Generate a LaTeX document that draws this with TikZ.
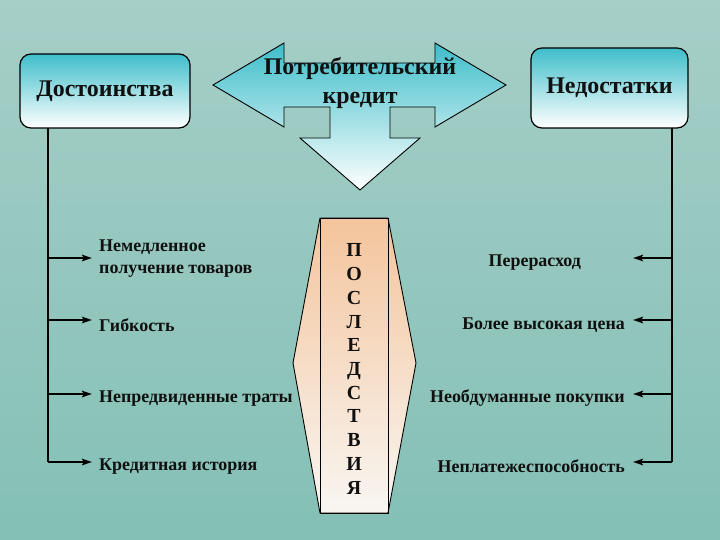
\documentclass[tikz,border=0pt]{standalone}
\usepackage{fontspec}
\setmainfont{Liberation Serif}
\usetikzlibrary{arrows.meta}
\definecolor{bgtop}{RGB}{204,226,221}
\definecolor{bgmid}{RGB}{176,216,209}
\definecolor{bgbot}{RGB}{142,199,190}
\definecolor{bgside}{RGB}{120,184,173}
\definecolor{bglight}{RGB}{208,234,230}
\definecolor{boxtop}{RGB}{62,190,202}
\definecolor{boxmid}{RGB}{160,222,226}
\definecolor{peach}{RGB}{244,196,156}
\definecolor{peachlow}{RGB}{248,246,242}
\definecolor{ink}{RGB}{16,16,16}
\tikzset{
  headbox/.style={draw=black, line width=1.2bp, rounded corners=11bp,
    top color=boxtop, middle color=boxmid, bottom color=white,
    font=\fontsize{24}{28}\selectfont\bfseries, text=ink},
  itemtext/.style={font=\fontsize{18}{22}\selectfont\bfseries, text=ink, inner ysep=0pt},
  trunk/.style={line width=2.4bp, draw=black},
  branch/.style={line width=2.6bp, draw=black, -{Stealth[length=10bp,width=6.5bp,inset=2bp]}},
}
\begin{document}
\begin{tikzpicture}[x=1bp,y=-1bp]
\useasboundingbox (0,0) rectangle (720,540);
% background
\shade[top color=bgtop, middle color=bgmid, bottom color=bgbot] (0,0) rectangle (720,540);
\shade[left color=bgside, middle color=bglight, right color=bgside, opacity=0.45] (0,0) rectangle (720,540);

% central quad arrow
\shade[draw=black, line width=0.9bp, top color=boxtop, middle color=boxmid, bottom color=white]
  (213,85) -- (284,43) -- (284,63) -- (435,63) -- (435,43) -- (506,85) -- (435,127)
  -- (435,107) -- (390,107) -- (390,138) -- (420,138) -- (360,190) -- (300,138)
  -- (330,138) -- (330,107) -- (284,107) -- (284,127) -- cycle;
\node[align=center, font=\fontsize{24}{29}\selectfont\bfseries, text=ink] (credit) at (360,83)
  {Потребительский\\кредит};

% heading boxes
\node[headbox, minimum width=170bp, minimum height=74bp] (dost) at (105,91) {Достоинства};
\node[headbox, minimum width=157bp, minimum height=80bp] (ned) at (609.5,88) {Недостатки};

% consequences
\shade[draw=black, line width=0.9bp, top color=peach, bottom color=peachlow]
  (320,218) -- (388,218) -- (416,363) -- (388,513) -- (320,513) -- (293,363) -- cycle;
\node[draw=black, line width=0.9bp, minimum width=68bp, minimum height=295bp] (cons) at (354,365.5) {};
\node[align=center, font=\fontsize{20}{23.8}\selectfont\bfseries, text=ink] (letters) at (354,369)
  {П\\О\\С\\Л\\Е\\Д\\С\\Т\\В\\И\\Я};

% left items
\node[itemtext, anchor=west, inner xsep=7bp, align=left] (a1) at (92,259) {Немедленное\\получение товаров};
\node[itemtext, anchor=west, inner xsep=7bp] (a2) at (92,325) {Гибкость};
\node[itemtext, anchor=west, inner xsep=7bp] (a3) at (92,399) {Непредвиденные траты};
\node[itemtext, anchor=west, inner xsep=7bp] (a4) at (92,467) {Кредитная история};

\coordinate (lt) at (48,128);
\coordinate (lb) at (48,462);
\coordinate (l1) at (48,258);
\coordinate (l2) at (48,320);
\coordinate (l3) at (48,394);
\coordinate (l4) at (48,462);
\draw[trunk] (lt) -- (lb);
\draw[branch] (l1) -- (l1 -| a1.west);
\draw[branch] (l2) -- (l2 -| a2.west);
\draw[branch] (l3) -- (l3 -| a3.west);
\draw[branch] (l4) -- (l4 -| a4.west);

% right items
\node[itemtext, anchor=east, inner xsep=8bp, minimum width=196bp] (b1) at (633,263) {Перерасход};
\node[itemtext, anchor=east, inner xsep=8bp] (b2) at (633,325) {Более высокая цена};
\node[itemtext, anchor=east, inner xsep=8bp] (b3) at (633,398) {Необдуманные покупки};
\node[itemtext, anchor=east, inner xsep=8bp] (b4) at (633,466) {Неплатежеспособность};

\coordinate (rt) at (672,128);
\coordinate (rb) at (672,462);
\coordinate (r1) at (672,258);
\coordinate (r2) at (672,320);
\coordinate (r3) at (672,394);
\coordinate (r4) at (672,462);
\draw[trunk] (rt) -- (rb);
\draw[branch] (r1) -- (r1 -| b1.east);
\draw[branch] (r2) -- (r2 -| b2.east);
\draw[branch] (r3) -- (r3 -| b3.east);
\draw[branch] (r4) -- (r4 -| b4.east);
\end{tikzpicture}
\end{document}
